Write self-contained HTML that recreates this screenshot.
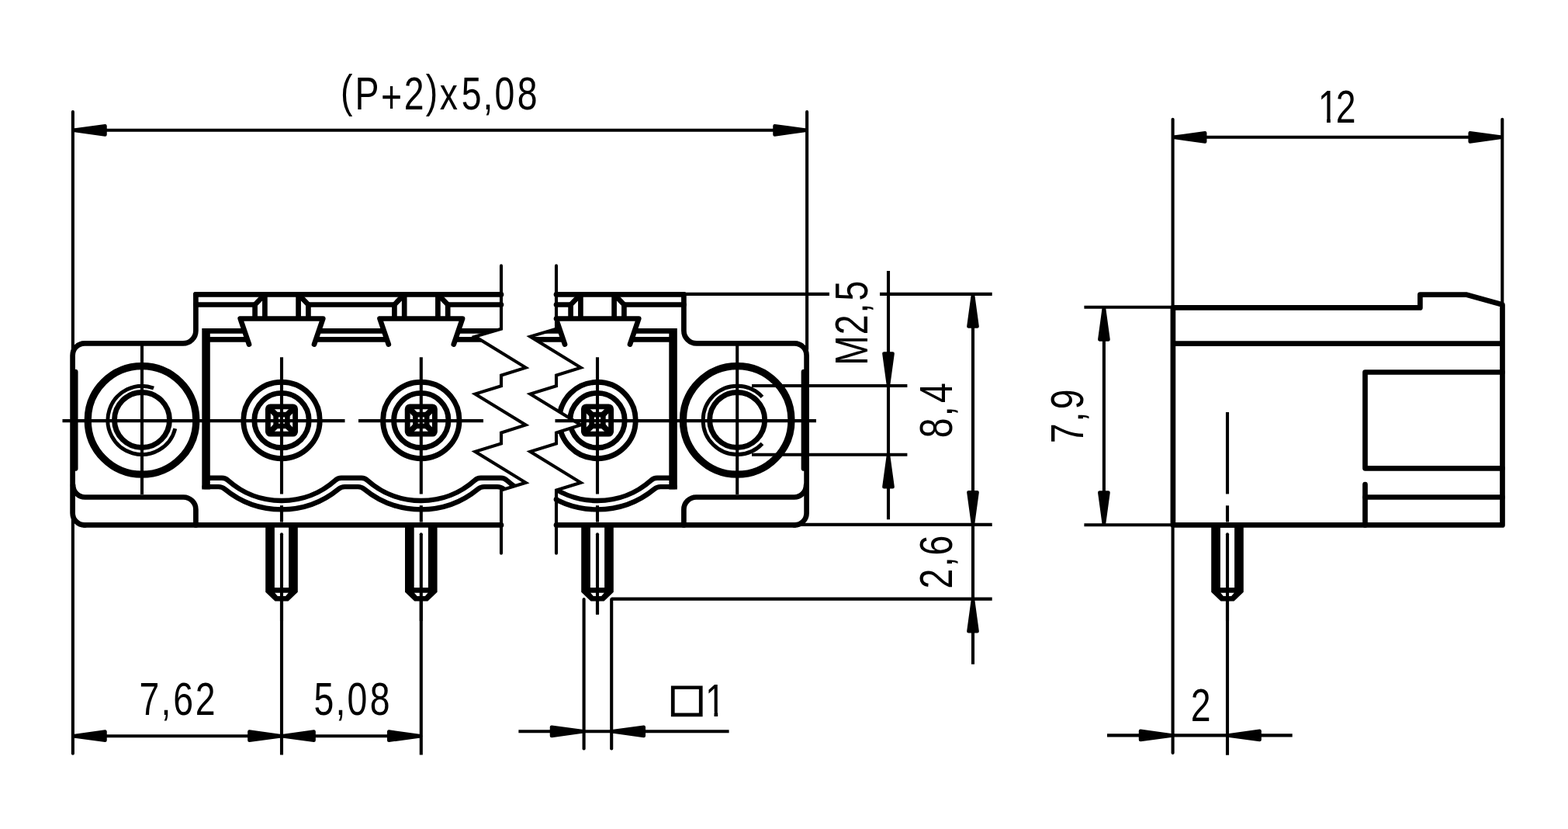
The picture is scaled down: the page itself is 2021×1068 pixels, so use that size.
<!DOCTYPE html>
<html lang="en"><head><meta charset="utf-8"><title>Terminal block dimension drawing</title>
<style>
html,body{margin:0;padding:0;background:#fff;}
body{width:2021px;height:1068px;overflow:hidden;}
svg{display:block;}
text{font-family:"Liberation Sans",sans-serif;}
</style></head><body>
<svg width="2021" height="1068" viewBox="0 0 2021 1068">
<rect width="2021" height="1068" fill="#fff"/>
<defs>
<clipPath id="cl"><polygon points="0.0,0.0 646.0,0.0 646.0,342.4 646.0,423.8 612.4,433.6 677.6,473.6 646.0,483.6 646.0,497.3 612.4,507.6 677.6,547.4 646.0,557.6 646.0,571.5 612.4,581.8 677.6,621.8 646.0,631.5 646.0,712.7 646.0,1068.0 0.0,1068.0"/></clipPath>
<clipPath id="cr"><polygon points="2021.0,0.0 717.0,0.0 717.0,342.4 717.0,423.8 683.4,433.6 748.6,473.6 717.0,483.6 717.0,497.3 683.4,507.6 748.6,547.4 717.0,557.6 717.0,571.5 683.4,581.8 748.6,621.8 717.0,631.5 717.0,712.7 717.0,1068.0 2021.0,1068.0"/></clipPath>
<clipPath id="c12"><rect x="1690" y="100" width="70" height="52.5"/><rect x="1710.1" y="150" width="4.7" height="12"/><rect x="1723" y="150" width="40" height="12"/></clipPath>
<clipPath id="c1"><rect x="905" y="865" width="40" height="52.2"/><rect x="920.5" y="915" width="4.7" height="12"/></clipPath>
</defs>
<g stroke="#000" fill="none">
<line x1="93.9" y1="144.1" x2="93.9" y2="970.7" stroke-width="4.1" stroke-linecap="round" />
<line x1="1040.1" y1="144.1" x2="1040.1" y2="449.9" stroke-width="4.1" stroke-linecap="round" />
<line x1="93.6" y1="167.8" x2="1039.6" y2="167.8" stroke-width="4.1" stroke-linecap="butt" />
<polygon points="94.5,167.8 135.5,162.2 135.5,173.4" fill="#000" stroke="#000" stroke-width="4.5" stroke-linejoin="round"/>
<polygon points="1039.5,167.8 998.5,162.2 998.5,173.4" fill="#000" stroke="#000" stroke-width="4.5" stroke-linejoin="round"/>
<line x1="93.6" y1="948.2" x2="542.8" y2="948.2" stroke-width="4.1" stroke-linecap="butt" />
<polygon points="94.5,948.2 135.5,942.6 135.5,953.8" fill="#000" stroke="#000" stroke-width="4.5" stroke-linejoin="round"/>
<polygon points="362.4,948.2 321.4,942.6 321.4,953.8" fill="#000" stroke="#000" stroke-width="4.5" stroke-linejoin="round"/>
<polygon points="363.6,948.2 404.6,942.6 404.6,953.8" fill="#000" stroke="#000" stroke-width="4.5" stroke-linejoin="round"/>
<polygon points="542.2,948.2 501.2,942.6 501.2,953.8" fill="#000" stroke="#000" stroke-width="4.5" stroke-linejoin="round"/>
<line x1="363.0" y1="460.2" x2="363.0" y2="636.5" stroke-width="4.1" stroke-linecap="butt" />
<line x1="363.0" y1="651.2" x2="363.0" y2="672.6" stroke-width="4.1" stroke-linecap="butt" />
<line x1="363.0" y1="688.0" x2="363.0" y2="972.6" stroke-width="4.1" stroke-linecap="butt" />
<line x1="542.8" y1="460.2" x2="542.8" y2="636.5" stroke-width="4.1" stroke-linecap="butt" />
<line x1="542.8" y1="651.2" x2="542.8" y2="672.6" stroke-width="4.1" stroke-linecap="butt" />
<line x1="542.8" y1="688.0" x2="542.8" y2="972.6" stroke-width="4.1" stroke-linecap="butt" />
<line x1="770.0" y1="460.2" x2="770.0" y2="636.5" stroke-width="4.1" stroke-linecap="butt" />
<line x1="770.0" y1="651.2" x2="770.0" y2="672.6" stroke-width="4.1" stroke-linecap="butt" />
<line x1="770.0" y1="688.0" x2="770.0" y2="791.6" stroke-width="4.1" stroke-linecap="butt" />
<line x1="183.0" y1="444.0" x2="183.0" y2="637.0" stroke-width="4.1" stroke-linecap="butt" />
<line x1="950.2" y1="444.0" x2="950.2" y2="637.0" stroke-width="4.1" stroke-linecap="butt" />
<line x1="80.5" y1="542.1" x2="444.5" y2="542.1" stroke-width="4.1" stroke-linecap="butt" />
<line x1="462.0" y1="542.1" x2="623.0" y2="542.1" stroke-width="4.1" stroke-linecap="butt" />
<line x1="715.5" y1="542.1" x2="1052.0" y2="542.1" stroke-width="4.1" stroke-linecap="butt" />
<path d="M646.0,342.4 L646.0,423.8 L612.4,433.6 L677.6,473.6 L646.0,483.6 L646.0,497.3 L612.4,507.6 L677.6,547.4 L646.0,557.6 L646.0,571.5 L612.4,581.8 L677.6,621.8 L646.0,631.5 L646.0,712.7" stroke-width="4.1" stroke-linecap="round" stroke-linejoin="miter" fill="none" />
<path d="M717.0,342.4 L717.0,423.8 L683.4,433.6 L748.6,473.6 L717.0,483.6 L717.0,497.3 L683.4,507.6 L748.6,547.4 L717.0,557.6 L717.0,571.5 L683.4,581.8 L748.6,621.8 L717.0,631.5 L717.0,712.7" stroke-width="4.1" stroke-linecap="round" stroke-linejoin="miter" fill="none" />
<line x1="752.6" y1="772.0" x2="752.6" y2="964.5" stroke-width="4.1" stroke-linecap="round" />
<line x1="788.2" y1="772.0" x2="788.2" y2="964.5" stroke-width="4.1" stroke-linecap="round" />
<line x1="668.4" y1="942.3" x2="939.6" y2="942.3" stroke-width="4.1" stroke-linecap="butt" />
<polygon points="752.0,942.3 711.0,936.7 711.0,947.9" fill="#000" stroke="#000" stroke-width="4.5" stroke-linejoin="round"/>
<polygon points="788.8,942.3 829.8,936.7 829.8,947.9" fill="#000" stroke="#000" stroke-width="4.5" stroke-linejoin="round"/>
<line x1="884.0" y1="378.9" x2="1069.0" y2="378.9" stroke-width="4.1" stroke-linecap="butt" />
<line x1="1134.0" y1="378.9" x2="1278.7" y2="378.9" stroke-width="4.1" stroke-linecap="butt" />
<line x1="1031.0" y1="675.9" x2="1278.7" y2="675.9" stroke-width="4.1" stroke-linecap="butt" />
<line x1="788.0" y1="771.6" x2="1278.7" y2="771.6" stroke-width="4.1" stroke-linecap="butt" />
<line x1="1254.0" y1="379.0" x2="1254.0" y2="855.7" stroke-width="4.1" stroke-linecap="butt" />
<polygon points="1254.0,379.5 1248.4,420.5 1259.6,420.5" fill="#000" stroke="#000" stroke-width="4.5" stroke-linejoin="round"/>
<polygon points="1254.0,675.3 1248.4,634.3 1259.6,634.3" fill="#000" stroke="#000" stroke-width="4.5" stroke-linejoin="round"/>
<polygon points="1254.0,772.2 1248.4,813.2 1259.6,813.2" fill="#000" stroke="#000" stroke-width="4.5" stroke-linejoin="round"/>
<line x1="1145.0" y1="349.0" x2="1145.0" y2="669.3" stroke-width="4.1" stroke-linecap="butt" />
<line x1="969.0" y1="497.0" x2="1169.4" y2="497.0" stroke-width="4.1" stroke-linecap="butt" />
<line x1="969.0" y1="585.7" x2="1169.4" y2="585.7" stroke-width="4.1" stroke-linecap="butt" />
<polygon points="1145.0,496.4 1139.4,455.4 1150.6,455.4" fill="#000" stroke="#000" stroke-width="4.5" stroke-linejoin="round"/>
<polygon points="1145.0,586.3 1139.4,627.3 1150.6,627.3" fill="#000" stroke="#000" stroke-width="4.5" stroke-linejoin="round"/>
<line x1="1511.6" y1="153.8" x2="1511.6" y2="393.9" stroke-width="4.1" stroke-linecap="round" />
<line x1="1936.3" y1="153.8" x2="1936.3" y2="389.9" stroke-width="4.1" stroke-linecap="round" />
<line x1="1511.6" y1="176.8" x2="1936.3" y2="176.8" stroke-width="4.1" stroke-linecap="butt" />
<polygon points="1512.2,176.8 1553.2,171.2 1553.2,182.4" fill="#000" stroke="#000" stroke-width="4.5" stroke-linejoin="round"/>
<polygon points="1935.7,176.8 1894.7,171.2 1894.7,182.4" fill="#000" stroke="#000" stroke-width="4.5" stroke-linejoin="round"/>
<line x1="1397.4" y1="395.8" x2="1511.6" y2="395.8" stroke-width="4.1" stroke-linecap="butt" />
<line x1="1397.4" y1="676.2" x2="1511.6" y2="676.2" stroke-width="4.1" stroke-linecap="butt" />
<line x1="1422.9" y1="396.0" x2="1422.9" y2="676.0" stroke-width="4.1" stroke-linecap="butt" />
<polygon points="1422.9,396.4 1417.3,437.4 1428.5,437.4" fill="#000" stroke="#000" stroke-width="4.5" stroke-linejoin="round"/>
<polygon points="1422.9,675.6 1417.3,634.6 1428.5,634.6" fill="#000" stroke="#000" stroke-width="4.5" stroke-linejoin="round"/>
<line x1="1511.6" y1="678.0" x2="1511.6" y2="970.0" stroke-width="4.1" stroke-linecap="round" />
<line x1="1582.0" y1="531.0" x2="1582.0" y2="636.4" stroke-width="4.1" stroke-linecap="butt" />
<line x1="1582.0" y1="651.3" x2="1582.0" y2="672.5" stroke-width="4.1" stroke-linecap="butt" />
<line x1="1582.0" y1="688.0" x2="1582.0" y2="972.8" stroke-width="4.1" stroke-linecap="butt" />
<line x1="1427.0" y1="947.4" x2="1665.7" y2="947.4" stroke-width="4.1" stroke-linecap="butt" />
<polygon points="1511.0,947.4 1470.0,941.8 1470.0,953.0" fill="#000" stroke="#000" stroke-width="4.5" stroke-linejoin="round"/>
<polygon points="1582.6,947.4 1623.6,941.8 1623.6,953.0" fill="#000" stroke="#000" stroke-width="4.5" stroke-linejoin="round"/>
</g>
<g stroke="#000" fill="none">
<path d="M252.4,379.4 L252.4,425.9 A16.5,16.5 0 0 1 235.9,442.4 L109.1,442.4 A15.5,15.5 0 0 0 93.6,457.9 L93.6,660.9 A15.5,15.5 0 0 0 109.1,676.4 " stroke-width="6.7" stroke-linecap="round" stroke-linejoin="round" fill="none" />
<path d="M94.1,625.0 A15.5,15.5 0 0 0 110.1,640.5 L236.4,640.5 A16,16 0 0 1 252.4,656.5 L252.4,676.4" stroke-width="6.7" stroke-linecap="round" stroke-linejoin="round" fill="none" />
<path d="M97.2,479 L97.2,603.5" stroke-width="6.7" stroke-linecap="round" stroke-linejoin="round" fill="none" />
<circle cx="183.0" cy="541.4" r="69.8" stroke-width="9.2" fill="none"/>
<circle cx="183.0" cy="541.0" r="35.5" stroke-width="6.9" fill="none"/>
<path d="M881.4,379.4 L881.4,425.9 A16.5,16.5 0 0 0 897.9,442.4 L1024.1,442.4 A15.5,15.5 0 0 1 1039.6,457.9 L1039.6,660.9 A15.5,15.5 0 0 1 1024.1,676.4 " stroke-width="6.7" stroke-linecap="round" stroke-linejoin="round" fill="none" />
<path d="M1039.1,625.0 A15.5,15.5 0 0 1 1023.1,640.5 L897.4,640.5 A16,16 0 0 0 881.4,656.5 L881.4,676.4" stroke-width="6.7" stroke-linecap="round" stroke-linejoin="round" fill="none" />
<path d="M1036.0,479 L1036.0,603.5" stroke-width="6.7" stroke-linecap="round" stroke-linejoin="round" fill="none" />
<circle cx="950.2" cy="541.4" r="69.8" stroke-width="9.2" fill="none"/>
<circle cx="950.2" cy="541.0" r="35.5" stroke-width="6.9" fill="none"/>
<path d="M198.1,500.0 A44.1,44.1 0 1 0 225.8,552.1" stroke-width="4.9" stroke-linecap="butt" stroke-linejoin="round" fill="none" />
<path d="M982.5,511.3 A44.1,44.1 0 1 0 982.5,571.5" stroke-width="4.9" stroke-linecap="butt" stroke-linejoin="round" fill="none" />
</g>
<g stroke="#000" fill="none" clip-path="url(#cl)">
<path d="M252.4,379.4 L646.0,379.4" stroke-width="6.7" stroke-linecap="round" stroke-linejoin="round" fill="none" />
<path d="M252.4,392.5 L328.6,392.5" stroke-width="6.7" stroke-linecap="round" stroke-linejoin="round" fill="none" />
<path d="M397.4,392.5 L508.4,392.5" stroke-width="6.7" stroke-linecap="round" stroke-linejoin="round" fill="none" />
<path d="M577.2,392.5 L646.0,392.5" stroke-width="6.7" stroke-linecap="round" stroke-linejoin="round" fill="none" />
<path d="M328.6,410.5 L328.6,392.5 L341.2,379.4" stroke-width="6.7" stroke-linecap="butt" stroke-linejoin="miter" fill="none" />
<path d="M341.4,379.4 L341.4,410.5" stroke-width="6.7" stroke-linecap="butt" stroke-linejoin="round" fill="none" />
<path d="M397.4,410.5 L397.4,392.5 L384.8,379.4" stroke-width="6.7" stroke-linecap="butt" stroke-linejoin="miter" fill="none" />
<path d="M384.6,379.4 L384.6,410.5" stroke-width="6.7" stroke-linecap="butt" stroke-linejoin="round" fill="none" />
<path d="M321.0,443.6 L309.7,410.5 L416.3,410.5 L405.0,443.6" stroke-width="6.7" stroke-linecap="round" stroke-linejoin="round" fill="none" />
<path d="M508.4,410.5 L508.4,392.5 L521.0,379.4" stroke-width="6.7" stroke-linecap="butt" stroke-linejoin="miter" fill="none" />
<path d="M521.2,379.4 L521.2,410.5" stroke-width="6.7" stroke-linecap="butt" stroke-linejoin="round" fill="none" />
<path d="M577.2,410.5 L577.2,392.5 L564.6,379.4" stroke-width="6.7" stroke-linecap="butt" stroke-linejoin="miter" fill="none" />
<path d="M564.4,379.4 L564.4,410.5" stroke-width="6.7" stroke-linecap="butt" stroke-linejoin="round" fill="none" />
<path d="M500.8,443.6 L489.5,410.5 L596.1,410.5 L584.8,443.6" stroke-width="6.7" stroke-linecap="round" stroke-linejoin="round" fill="none" />
<path d="M263.6,426.3 L315.0,426.3" stroke-width="6.7" stroke-linecap="butt" stroke-linejoin="round" fill="none" />
<path d="M411.0,426.3 L494.8,426.3" stroke-width="6.7" stroke-linecap="butt" stroke-linejoin="round" fill="none" />
<path d="M590.8,426.3 L800.0,426.3" stroke-width="6.7" stroke-linecap="butt" stroke-linejoin="round" fill="none" />
<path d="M267.5,437.4 L318.7,437.4" stroke-width="6.7" stroke-linecap="butt" stroke-linejoin="round" fill="none" />
<path d="M407.3,437.4 L498.5,437.4" stroke-width="6.7" stroke-linecap="butt" stroke-linejoin="round" fill="none" />
<path d="M587.1,437.4 L800.0,437.4" stroke-width="6.7" stroke-linecap="butt" stroke-linejoin="round" fill="none" />
<rect x="260.3" y="423" width="10.5" height="207.5" fill="#000" stroke="none"/>
<path d="M267.5,615.7 L286.1,615.7 Q290.6,615.7 293.9,618.8 A104.0,104.0 0 0 0 432.1,618.8 Q435.4,615.7 439.9,615.7 L465.8,615.7 Q470.3,615.7 473.6,618.8 A104.0,104.0 0 0 0 611.8,618.8 Q615.1,615.7 619.6,615.7 L645.5,615.7 Q650.0,615.7 653.3,618.8 A104.0,104.0 0 0 0 791.5,618.8 Q794.8,615.7 799.3,615.7 L825.2,615.7 Q829.7,615.7 833.0,618.8 A104.0,104.0 0 0 0 971.2,618.8 Q974.5,615.7 979.0,615.7" stroke-width="6.4" stroke-linecap="round" stroke-linejoin="round" fill="none" />
<path d="M263.6,627.1 L281.7,627.1 Q286.2,627.1 289.6,630.0 A115.4,115.4 0 0 0 436.4,630.0 Q439.8,627.1 444.3,627.1 L461.4,627.1 Q465.9,627.1 469.3,630.0 A115.4,115.4 0 0 0 616.1,630.0 Q619.5,627.1 624.0,627.1 L641.1,627.1 Q645.6,627.1 649.0,630.0 A115.4,115.4 0 0 0 795.8,630.0 Q799.2,627.1 803.7,627.1 L820.8,627.1 Q825.3,627.1 828.7,630.0 A115.4,115.4 0 0 0 975.5,630.0 Q978.9,627.1 983.4,627.1" stroke-width="6.4" stroke-linecap="round" stroke-linejoin="round" fill="none" />
<path d="M109.1,676.4 L646.0,676.4" stroke-width="6.7" stroke-linecap="round" stroke-linejoin="round" fill="none" />
<circle cx="363.0" cy="541.5" r="49.2" stroke-width="6.9" fill="none"/>
<circle cx="363.0" cy="541.6" r="35.2" stroke-width="6.9" fill="none"/>
<rect x="345.4" y="523.9" width="35.2" height="35.2" rx="3" stroke-width="6.9"/>
<rect x="355.6" y="534.1" width="14.8" height="14.8" stroke-width="6.6"/>
<path d="M345.4,523.9 L355.6,534.1" stroke-width="7.6" stroke-linecap="butt" stroke-linejoin="round" fill="none" />
<path d="M345.4,559.1 L355.6,548.9" stroke-width="7.6" stroke-linecap="butt" stroke-linejoin="round" fill="none" />
<path d="M380.6,523.9 L370.4,534.1" stroke-width="7.6" stroke-linecap="butt" stroke-linejoin="round" fill="none" />
<path d="M380.6,559.1 L370.4,548.9" stroke-width="7.6" stroke-linecap="butt" stroke-linejoin="round" fill="none" />
<circle cx="542.8" cy="541.5" r="49.2" stroke-width="6.9" fill="none"/>
<circle cx="542.8" cy="541.6" r="35.2" stroke-width="6.9" fill="none"/>
<rect x="525.2" y="523.9" width="35.2" height="35.2" rx="3" stroke-width="6.9"/>
<rect x="535.4" y="534.1" width="14.8" height="14.8" stroke-width="6.6"/>
<path d="M525.2,523.9 L535.4,534.1" stroke-width="7.6" stroke-linecap="butt" stroke-linejoin="round" fill="none" />
<path d="M525.2,559.1 L535.4,548.9" stroke-width="7.6" stroke-linecap="butt" stroke-linejoin="round" fill="none" />
<path d="M560.4,523.9 L550.2,534.1" stroke-width="7.6" stroke-linecap="butt" stroke-linejoin="round" fill="none" />
<path d="M560.4,559.1 L550.2,548.9" stroke-width="7.6" stroke-linecap="butt" stroke-linejoin="round" fill="none" />
</g>
<g stroke="#000" fill="none" clip-path="url(#cr)">
<path d="M717.0,379.4 L881.4,379.4" stroke-width="6.7" stroke-linecap="round" stroke-linejoin="round" fill="none" />
<path d="M717.0,392.5 L735.6,392.5" stroke-width="6.7" stroke-linecap="round" stroke-linejoin="round" fill="none" />
<path d="M804.4,392.5 L881.4,392.5" stroke-width="6.7" stroke-linecap="round" stroke-linejoin="round" fill="none" />
<path d="M735.6,410.5 L735.6,392.5 L748.2,379.4" stroke-width="6.7" stroke-linecap="butt" stroke-linejoin="miter" fill="none" />
<path d="M748.4,379.4 L748.4,410.5" stroke-width="6.7" stroke-linecap="butt" stroke-linejoin="round" fill="none" />
<path d="M804.4,410.5 L804.4,392.5 L791.8,379.4" stroke-width="6.7" stroke-linecap="butt" stroke-linejoin="miter" fill="none" />
<path d="M791.6,379.4 L791.6,410.5" stroke-width="6.7" stroke-linecap="butt" stroke-linejoin="round" fill="none" />
<path d="M728.0,443.6 L716.7,410.5 L823.3,410.5 L812.0,443.6" stroke-width="6.7" stroke-linecap="round" stroke-linejoin="round" fill="none" />
<path d="M600.0,426.3 L722.0,426.3" stroke-width="6.7" stroke-linecap="butt" stroke-linejoin="round" fill="none" />
<path d="M818.0,426.3 L869.5,426.3" stroke-width="6.7" stroke-linecap="butt" stroke-linejoin="round" fill="none" />
<path d="M600.0,437.4 L725.7,437.4" stroke-width="6.7" stroke-linecap="butt" stroke-linejoin="round" fill="none" />
<path d="M814.3,437.4 L865.6,437.4" stroke-width="6.7" stroke-linecap="butt" stroke-linejoin="round" fill="none" />
<rect x="862.3" y="423" width="10.5" height="207.5" fill="#000" stroke="none"/>
<path d="M865.6,615.7 L846.9,615.7 Q842.4,615.7 839.1,618.8 A104.0,104.0 0 0 1 700.9,618.8 Q697.6,615.7 693.1,615.7 L667.2,615.7 Q662.7,615.7 659.4,618.8 A104.0,104.0 0 0 1 521.2,618.8 Q517.9,615.7 513.4,615.7 L487.5,615.7 Q483.0,615.7 479.7,618.8 A104.0,104.0 0 0 1 341.5,618.8 Q338.2,615.7 333.7,615.7" stroke-width="6.4" stroke-linecap="round" stroke-linejoin="round" fill="none" />
<path d="M869.5,627.1 L851.3,627.1 Q846.8,627.1 843.4,630.0 A115.4,115.4 0 0 1 696.6,630.0 Q693.2,627.1 688.7,627.1 L671.6,627.1 Q667.1,627.1 663.7,630.0 A115.4,115.4 0 0 1 516.9,630.0 Q513.5,627.1 509.0,627.1 L491.9,627.1 Q487.4,627.1 484.0,630.0 A115.4,115.4 0 0 1 337.2,630.0 Q333.8,627.1 329.3,627.1" stroke-width="6.4" stroke-linecap="round" stroke-linejoin="round" fill="none" />
<path d="M717.0,676.4 L1024.1,676.4" stroke-width="6.7" stroke-linecap="round" stroke-linejoin="round" fill="none" />
<circle cx="770.0" cy="541.5" r="49.2" stroke-width="6.9" fill="none"/>
<circle cx="770.0" cy="541.6" r="35.2" stroke-width="6.9" fill="none"/>
<rect x="752.4" y="523.9" width="35.2" height="35.2" rx="3" stroke-width="6.9"/>
<rect x="762.6" y="534.1" width="14.8" height="14.8" stroke-width="6.6"/>
<path d="M752.4,523.9 L762.6,534.1" stroke-width="7.6" stroke-linecap="butt" stroke-linejoin="round" fill="none" />
<path d="M752.4,559.1 L762.6,548.9" stroke-width="7.6" stroke-linecap="butt" stroke-linejoin="round" fill="none" />
<path d="M787.6,523.9 L777.4,534.1" stroke-width="7.6" stroke-linecap="butt" stroke-linejoin="round" fill="none" />
<path d="M787.6,559.1 L777.4,548.9" stroke-width="7.6" stroke-linecap="butt" stroke-linejoin="round" fill="none" />
</g>
<circle cx="646.0" cy="379.4" r="3.35" fill="#000" stroke="none"/>
<circle cx="646.0" cy="392.5" r="3.35" fill="#000" stroke="none"/>
<circle cx="646.0" cy="676.4" r="3.35" fill="#000" stroke="none"/>
<circle cx="717.0" cy="379.4" r="3.35" fill="#000" stroke="none"/>
<circle cx="717.0" cy="392.5" r="3.35" fill="#000" stroke="none"/>
<circle cx="717.0" cy="410.5" r="3.35" fill="#000" stroke="none"/>
<circle cx="717.0" cy="676.4" r="3.35" fill="#000" stroke="none"/>
<circle cx="717.0" cy="643.4" r="3.35" fill="#000" stroke="none"/>
<polygon points="342.2,676.4 342.2,762.7 354.5,774.6 371.5,774.6 383.8,762.7 383.8,676.4" fill="#000" stroke="none" />
<rect x="353.9" y="679.7" width="18.2" height="77.3" fill="#fff" stroke="none"/>
<polygon points="354.2,763.8 371.8,763.8 368.1,768.0 357.9,768.0" fill="#000" stroke="none" style="fill:#fff"/>
<polygon points="522.0,676.4 522.0,762.7 534.3,774.6 551.3,774.6 563.6,762.7 563.6,676.4" fill="#000" stroke="none" />
<rect x="533.7" y="679.7" width="18.2" height="77.3" fill="#fff" stroke="none"/>
<polygon points="534.0,763.8 551.6,763.8 547.9,768.0 537.7,768.0" fill="#000" stroke="none" style="fill:#fff"/>
<polygon points="749.2,676.4 749.2,762.7 761.5,774.6 778.5,774.6 790.8,762.7 790.8,676.4" fill="#000" stroke="none" />
<rect x="760.9" y="679.7" width="18.2" height="77.3" fill="#fff" stroke="none"/>
<polygon points="761.2,763.8 778.8,763.8 775.1,768.0 764.9,768.0" fill="#000" stroke="none" style="fill:#fff"/>
<polygon points="1561.2,676.4 1561.2,762.7 1573.5,774.6 1590.5,774.6 1602.8,762.7 1602.8,676.4" fill="#000" stroke="none" />
<rect x="1572.9" y="679.7" width="18.2" height="77.3" fill="#fff" stroke="none"/>
<polygon points="1573.2,763.8 1590.8,763.8 1587.1,768.0 1576.9,768.0" fill="#000" stroke="none" style="fill:#fff"/>
<g stroke="#000" fill="none">
<line x1="363.0" y1="688.2" x2="363.0" y2="800.0" stroke-width="4.1" stroke-linecap="butt" />
<circle cx="363.0" cy="688.2" r="2.05" fill="#000" stroke="none"/>
<line x1="542.8" y1="688.2" x2="542.8" y2="800.0" stroke-width="4.1" stroke-linecap="butt" />
<circle cx="542.8" cy="688.2" r="2.05" fill="#000" stroke="none"/>
<line x1="770.0" y1="688.2" x2="770.0" y2="791.6" stroke-width="4.1" stroke-linecap="butt" />
<circle cx="770.0" cy="688.2" r="2.05" fill="#000" stroke="none"/>
<line x1="1582.0" y1="688.2" x2="1582.0" y2="800.0" stroke-width="4.1" stroke-linecap="butt" />
<circle cx="1582.0" cy="688.2" r="2.05" fill="#000" stroke="none"/>
</g>
<g stroke="#000" fill="none">
<path d="M1511.9,676.4 L1511.9,396.4 L1830.4,396.4 L1830.4,379.6 L1889.6,379.6 L1936.5,392.5 L1936.5,676.4 Z" stroke-width="6.7" stroke-linecap="round" stroke-linejoin="round" fill="none" />
<path d="M1511.6,442.6 L1936.5,442.6" stroke-width="6.7" stroke-linecap="butt" stroke-linejoin="round" fill="none" />
<path d="M1936.5,479.5 L1759.5,479.5 L1759.5,603.3 L1936.5,603.3" stroke-width="6.7" stroke-linecap="round" stroke-linejoin="round" fill="none" />
<path d="M1759.5,624 L1759.5,676.4" stroke-width="6.7" stroke-linecap="round" stroke-linejoin="round" fill="none" />
<path d="M1759.5,640.5 L1936.5,640.5" stroke-width="6.7" stroke-linecap="round" stroke-linejoin="round" fill="none" />
</g>
<g><text transform="translate(0,141.0) scale(0.78,1)" x="562.72 586.53 629.44 667.68 703.49 726.65 762.55 798.02 817.30 854.80" y="-3.0 0.0 4.0 0.0 -3.0 0.0 0.0 0.0 0.0 0.0" font-size="59.5" stroke="none" fill="#000">(P+2)x5,08</text></g>
<g clip-path="url(#c12)"><text transform="translate(0,158.0) scale(0.78,1)" x="2177.80 2207.36" y="0" font-size="59.5" stroke="none" fill="#000">12</text></g>
<g><text transform="translate(0,921.2) scale(0.78,1)" x="230.28 266.09 286.26 322.81" y="0" font-size="59.5" stroke="none" fill="#000">7,62</text></g>
<g><text transform="translate(0,921.2) scale(0.78,1)" x="518.70 554.56 573.84 611.08" y="0" font-size="59.5" stroke="none" fill="#000">5,08</text></g>
<text transform="translate(866.10,921.55) scale(1.012,0.985)" font-size="63.6" fill="#000" stroke="#000" stroke-width="2.34" stroke-linejoin="miter">□</text>
<g clip-path="url(#c1)"><text transform="translate(0,922.7) scale(0.78,1)" x="1165.49" y="0" font-size="59.5" stroke="none" fill="#000">1</text></g>
<g><text transform="translate(0,929.0) scale(0.78,1)" x="1967.62" y="0" font-size="59.5" stroke="none" fill="#000">2</text></g>
<g><text transform="translate(1118.1,466.0) rotate(-90) scale(0.78,1)" x="-6.19 44.61 80.20 100.76" y="0" font-size="59.5" stroke="none" fill="#000">M2,5</text></g>
<g><text transform="translate(1227.1,561.9) rotate(-90) scale(0.78,1)" x="-3.02 32.83 54.99" y="0" font-size="59.5" stroke="none" fill="#000">8,4</text></g>
<g><text transform="translate(1227.1,755.8) rotate(-90) scale(0.78,1)" x="-3.34 32.63 51.65" y="0" font-size="59.5" stroke="none" fill="#000">2,6</text></g>
<g><text transform="translate(1396.0,568.8) rotate(-90) scale(0.78,1)" x="-3.31 32.57 53.34" y="0" font-size="59.5" stroke="none" fill="#000">7,9</text></g>
</svg>
</body></html>
